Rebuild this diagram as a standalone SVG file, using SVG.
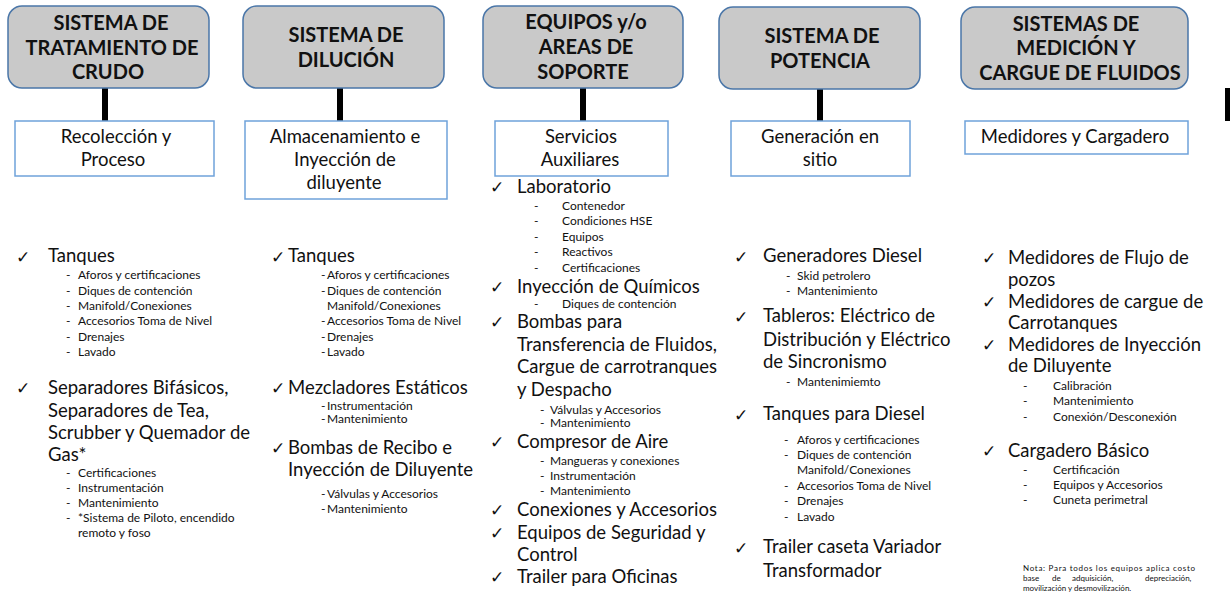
<svg xmlns="http://www.w3.org/2000/svg" width="1230" height="593" viewBox="0 0 1230 593">
  <style>
    .hdr rect { fill: #c9c9c9; stroke: #4a76a8; stroke-width: 1.5; }
    .sub rect { fill: #ffffff; stroke: #6fa2da; stroke-width: 1.5; }
    .ht { font-family: Lato, "Liberation Sans", sans-serif; font-weight: bold; font-size: 20px; fill: #111; text-anchor: middle; }
    .st { font-family: Lato, "Liberation Sans", sans-serif; font-size: 18.5px; fill: #111; text-anchor: middle; }
    .li { font-family: Lato, "Liberation Sans", sans-serif; font-size: 18.5px; fill: #111; }
    .si { font-family: Lato, "Liberation Sans", sans-serif; font-size: 12px; fill: #111; }
    .ck { font-family: "DejaVu Sans", sans-serif; font-size: 17px; fill: #111; }
    .nota { font-family: Lato, "Liberation Sans", sans-serif; font-size: 8px; fill: #111; }
    .bar { fill: #000; }
  </style>

  <!-- Connectors: thick vertical bars from each system box down to its sub box -->
  <g id="connectors">
    <rect class="bar" x="102" y="88" width="6" height="33"/>
    <rect class="bar" x="337" y="88" width="6" height="33"/>
    <rect class="bar" x="580" y="88" width="6" height="33"/>
    <rect class="bar" x="817" y="89" width="6" height="32"/>
    <rect class="bar" x="1225" y="88" width="6" height="33"/>
  </g>

  <!-- System boxes -->
  <g id="sys-crudo" class="hdr">
    <rect x="8" y="6" width="201" height="82" rx="14"/>
    <text class="ht" x="111" y="30">SISTEMA DE</text>
    <text class="ht" x="112" y="55">TRATAMIENTO DE</text>
    <text class="ht" x="108" y="79">CRUDO</text>
  </g>
  <g id="sys-dilucion" class="hdr">
    <rect x="243" y="6" width="201" height="82" rx="14"/>
    <text class="ht" x="346" y="42">SISTEMA DE</text>
    <text class="ht" x="346" y="67">DILUCIÓN</text>
  </g>
  <g id="sys-soporte" class="hdr">
    <rect x="483" y="6" width="200" height="82" rx="14"/>
    <text class="ht" x="586" y="29">EQUIPOS y/o</text>
    <text class="ht" x="586" y="54">AREAS DE</text>
    <text class="ht" x="583" y="79">SOPORTE</text>
  </g>
  <g id="sys-potencia" class="hdr">
    <rect x="719" y="7" width="201" height="82" rx="14"/>
    <text class="ht" x="822" y="43">SISTEMA DE</text>
    <text class="ht" x="820" y="68">POTENCIA</text>
  </g>
  <g id="sys-medicion" class="hdr">
    <rect x="961" y="7" width="227" height="82" rx="14"/>
    <text class="ht" x="1076" y="31">SISTEMAS DE</text>
    <text class="ht" x="1076" y="55">MEDICIÓN Y</text>
    <text class="ht" x="1080" y="80">CARGUE DE FLUIDOS</text>
  </g>

  <!-- Sub boxes -->
  <g id="sub-recoleccion" class="sub">
    <rect x="15" y="121" width="199" height="55"/>
    <text class="st" x="116" y="143">Recolección y</text>
    <text class="st" x="113" y="166">Proceso</text>
  </g>
  <g id="sub-almacenamiento" class="sub">
    <rect x="245" y="121" width="202" height="78"/>
    <text class="st" x="345" y="143">Almacenamiento e</text>
    <text class="st" x="345" y="166">Inyección de</text>
    <text class="st" x="344" y="189">diluyente</text>
  </g>
  <g id="sub-servicios" class="sub">
    <rect x="495" y="121" width="173" height="55"/>
    <text class="st" x="581" y="143">Servicios</text>
    <text class="st" x="580" y="166">Auxiliares</text>
  </g>
  <g id="sub-generacion" class="sub">
    <rect x="731" y="121" width="179" height="55"/>
    <text class="st" x="820" y="143">Generación en</text>
    <text class="st" x="820" y="166">sitio</text>
  </g>
  <g id="sub-medidores" class="sub">
    <rect x="965" y="121" width="223" height="33"/>
    <text class="st" x="1075" y="143">Medidores y Cargadero</text>
  </g>

  <!-- Item list: crude treatment -->
  <g id="list-crudo">
    <text class="ck" x="16" y="263">✓</text>
    <text class="li" x="48" y="262">Tanques</text>
    <text class="si" x="66" y="279">-</text><text class="si" x="78" y="279">Aforos y certificaciones</text>
    <text class="si" x="66" y="294.5">-</text><text class="si" x="78" y="294.5">Diques de contención</text>
    <text class="si" x="66" y="310">-</text><text class="si" x="78" y="310">Manifold/Conexiones</text>
    <text class="si" x="66" y="325">-</text><text class="si" x="78" y="325">Accesorios Toma de Nivel</text>
    <text class="si" x="66" y="340.5">-</text><text class="si" x="78" y="340.5">Drenajes</text>
    <text class="si" x="66" y="356">-</text><text class="si" x="78" y="356">Lavado</text>

    <text class="ck" x="16" y="394">✓</text>
    <text class="li" x="48" y="394">Separadores Bifásicos,</text>
    <text class="li" x="48" y="416.5">Separadores de Tea,</text>
    <text class="li" x="48" y="439">Scrubber y Quemador de</text>
    <text class="li" x="48" y="461">Gas*</text>
    <text class="si" x="66" y="477">-</text><text class="si" x="78" y="477">Certificaciones</text>
    <text class="si" x="66" y="492">-</text><text class="si" x="78" y="492">Instrumentación</text>
    <text class="si" x="66" y="507">-</text><text class="si" x="78" y="507">Mantenimiento</text>
    <text class="si" x="66" y="522">-</text><text class="si" x="78" y="522">*Sistema de Piloto, encendido</text>
    <text class="si" x="78" y="537">remoto y foso</text>
  </g>

  <!-- Item list: dilution -->
  <g id="list-dilucion">
    <text class="ck" x="271" y="263">✓</text>
    <text class="li" x="288" y="262">Tanques</text>
    <text class="si" x="321" y="279">-</text><text class="si" x="327" y="279">Aforos y certificaciones</text>
    <text class="si" x="321" y="294.5">-</text><text class="si" x="327" y="294.5">Diques de contención</text>
    <text class="si" x="327" y="310">Manifold/Conexiones</text>
    <text class="si" x="321" y="325">-</text><text class="si" x="327" y="325">Accesorios Toma de Nivel</text>
    <text class="si" x="321" y="340.5">-</text><text class="si" x="327" y="340.5">Drenajes</text>
    <text class="si" x="321" y="356">-</text><text class="si" x="327" y="356">Lavado</text>

    <text class="ck" x="271" y="394">✓</text>
    <text class="li" x="288" y="394">Mezcladores Estáticos</text>
    <text class="si" x="321" y="409.5">-</text><text class="si" x="327" y="409.5">Instrumentación</text>
    <text class="si" x="321" y="423">-</text><text class="si" x="327" y="423">Mantenimiento</text>

    <text class="ck" x="271" y="454">✓</text>
    <text class="li" x="288" y="454">Bombas de Recibo e</text>
    <text class="li" x="288" y="476">Inyección de Diluyente</text>
    <text class="si" x="321" y="497.5">-</text><text class="si" x="327" y="497.5">Válvulas y Accesorios</text>
    <text class="si" x="321" y="512.5">-</text><text class="si" x="327" y="512.5">Mantenimiento</text>
  </g>

  <!-- Item list: support equipment -->
  <g id="list-soporte">
    <text class="ck" x="490" y="193">✓</text>
    <text class="li" x="517" y="193">Laboratorio</text>
    <text class="si" x="534" y="209.5">-</text><text class="si" x="562" y="209.5">Contenedor</text>
    <text class="si" x="534" y="225">-</text><text class="si" x="562" y="225">Condiciones HSE</text>
    <text class="si" x="534" y="241">-</text><text class="si" x="562" y="241">Equipos</text>
    <text class="si" x="534" y="256">-</text><text class="si" x="562" y="256">Reactivos</text>
    <text class="si" x="534" y="272">-</text><text class="si" x="562" y="272">Certificaciones</text>

    <text class="ck" x="490" y="293">✓</text>
    <text class="li" x="517" y="293">Inyección de Químicos</text>
    <text class="si" x="534" y="307.5">-</text><text class="si" x="562" y="307.5">Diques de contención</text>

    <text class="ck" x="490" y="328">✓</text>
    <text class="li" x="517" y="328">Bombas para</text>
    <text class="li" x="517" y="351">Transferencia de Fluidos,</text>
    <text class="li" x="517" y="373">Cargue de carrotranques</text>
    <text class="li" x="517" y="396">y Despacho</text>
    <text class="si" x="540" y="413.5">-</text><text class="si" x="550" y="413.5">Válvulas y Accesorios</text>
    <text class="si" x="540" y="427">-</text><text class="si" x="550" y="427">Mantenimiento</text>

    <text class="ck" x="490" y="448">✓</text>
    <text class="li" x="517" y="448">Compresor de Aire</text>
    <text class="si" x="540" y="464.5">-</text><text class="si" x="550" y="464.5">Mangueras y conexiones</text>
    <text class="si" x="540" y="480">-</text><text class="si" x="550" y="480">Instrumentación</text>
    <text class="si" x="540" y="495">-</text><text class="si" x="550" y="495">Mantenimiento</text>

    <text class="ck" x="490" y="516">✓</text>
    <text class="li" x="517" y="516">Conexiones y Accesorios</text>
    <text class="ck" x="490" y="539">✓</text>
    <text class="li" x="517" y="539">Equipos de Seguridad y</text>
    <text class="li" x="517" y="561">Control</text>
    <text class="ck" x="490" y="583">✓</text>
    <text class="li" x="517" y="583">Trailer para Oficinas</text>
  </g>

  <!-- Item list: power -->
  <g id="list-potencia">
    <text class="ck" x="734" y="263">✓</text>
    <text class="li" x="763" y="262">Generadores Diesel</text>
    <text class="si" x="786" y="279.5">-</text><text class="si" x="797" y="279.5">Skid petrolero</text>
    <text class="si" x="786" y="295">-</text><text class="si" x="797" y="295">Mantenimiento</text>

    <text class="ck" x="734" y="323">✓</text>
    <text class="li" x="763" y="322">Tableros: Eléctrico de</text>
    <text class="li" x="763" y="346">Distribución y Eléctrico</text>
    <text class="li" x="763" y="368">de Sincronismo</text>
    <text class="si" x="786" y="386">-</text><text class="si" x="797" y="386">Mantenimiemto</text>

    <text class="ck" x="734" y="421">✓</text>
    <text class="li" x="763" y="420">Tanques para Diesel</text>
    <text class="si" x="784" y="443.5">-</text><text class="si" x="797" y="443.5">Aforos y certificaciones</text>
    <text class="si" x="784" y="459">-</text><text class="si" x="797" y="459">Diques de contención</text>
    <text class="si" x="797" y="474">Manifold/Conexiones</text>
    <text class="si" x="784" y="489.5">-</text><text class="si" x="797" y="489.5">Accesorios Toma de Nivel</text>
    <text class="si" x="784" y="505">-</text><text class="si" x="797" y="505">Drenajes</text>
    <text class="si" x="784" y="521">-</text><text class="si" x="797" y="521">Lavado</text>

    <text class="ck" x="734" y="554">✓</text>
    <text class="li" x="763" y="553">Trailer caseta Variador</text>
    <text class="li" x="763" y="577">Transformador</text>
  </g>

  <!-- Item list: metering and loading -->
  <g id="list-medicion">
    <text class="ck" x="982" y="264">✓</text>
    <text class="li" x="1008" y="264">Medidores de Flujo de</text>
    <text class="li" x="1008" y="286">pozos</text>
    <text class="ck" x="982" y="308">✓</text>
    <text class="li" x="1008" y="308">Medidores de cargue de</text>
    <text class="li" x="1008" y="329">Carrotanques</text>
    <text class="ck" x="982" y="351">✓</text>
    <text class="li" x="1008" y="351">Medidores de Inyección</text>
    <text class="li" x="1008" y="372">de Diluyente</text>
    <text class="si" x="1023" y="390">-</text><text class="si" x="1053" y="390">Calibración</text>
    <text class="si" x="1023" y="405">-</text><text class="si" x="1053" y="405">Mantenimiento</text>
    <text class="si" x="1023" y="420.5">-</text><text class="si" x="1053" y="420.5">Conexión/Desconexión</text>

    <text class="ck" x="982" y="457">✓</text>
    <text class="li" x="1008" y="457">Cargadero Básico</text>
    <text class="si" x="1023" y="473.5">-</text><text class="si" x="1053" y="473.5">Certificación</text>
    <text class="si" x="1023" y="488.5">-</text><text class="si" x="1053" y="488.5">Equipos y Accesorios</text>
    <text class="si" x="1023" y="504">-</text><text class="si" x="1053" y="504">Cuneta perimetral</text>
  </g>

  <!-- Footnote, justified -->
  <g id="nota">
    <text class="nota" x="1023" y="571" textLength="172" lengthAdjust="spacing">Nota: Para todos los equipos aplica costo</text>
    <text class="nota" y="581"><tspan x="1023">base</tspan><tspan x="1052">de</tspan><tspan x="1072">adquisición,</tspan><tspan x="1145">depreciación,</tspan></text>
    <text class="nota" x="1023" y="591">movilización y desmovilización.</text>
  </g>
</svg>
